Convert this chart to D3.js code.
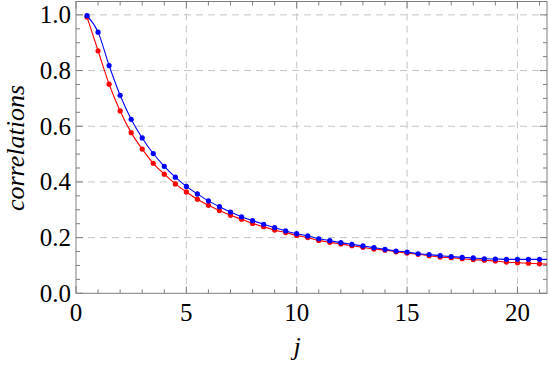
<!DOCTYPE html>
<html>
<head>
<meta charset="utf-8">
<script src="https://cdn.jsdelivr.net/npm/d3@7"></script>
<style>
  body { margin: 0; background: #fff; }
</style>
</head>
<body>
<div id="chart"></div>
<script>
var width = 549;
var height = 366;

// j values 0.5, 1, ..., 21
var jValues = [0.5, 1, 1.5, 2, 2.5, 3, 3.5, 4, 4.5, 5, 5.5, 6, 6.5, 7, 7.5, 8, 8.5, 9, 9.5, 10,
  10.5, 11, 11.5, 12, 12.5, 13, 13.5, 14, 14.5, 15, 15.5, 16, 16.5, 17, 17.5, 18, 18.5, 19, 19.5, 20, 20.5, 21];
var blueValues = [0.997, 0.938, 0.818, 0.711, 0.625, 0.558, 0.502, 0.456, 0.417, 0.384, 0.357, 0.332, 0.311, 0.292, 0.275, 0.261,
  0.248, 0.236, 0.224, 0.214, 0.206, 0.196, 0.189, 0.182, 0.176, 0.170, 0.164, 0.158, 0.152, 0.148, 0.142, 0.139,
  0.135, 0.132, 0.129, 0.127, 0.124, 0.123, 0.122, 0.122, 0.122, 0.122];
var redValues = [0.992, 0.871, 0.751, 0.655, 0.577, 0.518, 0.467, 0.428, 0.393, 0.364, 0.338, 0.316, 0.297, 0.280, 0.266, 0.251,
  0.239, 0.227, 0.218, 0.208, 0.200, 0.190, 0.183, 0.177, 0.171, 0.165, 0.159, 0.155, 0.149, 0.144, 0.140, 0.135,
  0.130, 0.128, 0.124, 0.121, 0.119, 0.116, 0.112, 0.110, 0.108, 0.106];
var xTicks = [0, 5, 10, 15, 20];
var yTicks = [0.0, 0.2, 0.4, 0.6, 0.8, 1.0];

var plotLeft = 76, plotRight = 547, plotTop = 1.5, plotBottom = 293.3;
var frameColor = "#7f7f7f";
var serif = "'Liberation Serif', 'Times New Roman', Times, serif";

const svg = d3.select("#chart")
  .append("svg")
  .attr("width", width)
  .attr("height", height)
  .attr("viewBox", [0, 0, width, height])
  .attr("font-family", serif);

const x = d3.scaleLinear().domain([0, 21.34]).range([plotLeft, plotRight]);
const y = d3.scaleLinear().domain([0, 1.048]).range([plotBottom, plotTop]);

// gridlines
svg.append("g")
  .selectAll("line")
  .data(xTicks.filter(d => d > 0))
  .join("line")
  .attr("x1", d => x(d)).attr("x2", d => x(d))
  .attr("y1", plotTop).attr("y2", plotBottom)
  .attr("stroke", "#c4c4c4")
  .attr("stroke-width", 1)
  .attr("stroke-dasharray", "7,5");
svg.append("g")
  .selectAll("line")
  .data(yTicks.filter(d => d > 0))
  .join("line")
  .attr("x1", plotLeft).attr("x2", plotRight)
  .attr("y1", d => y(d)).attr("y2", d => y(d))
  .attr("stroke", "#c4c4c4")
  .attr("stroke-width", 1)
  .attr("stroke-dasharray", "7,5");

// frame ticks (inward), minor and major
var minorX = d3.range(0, 22, 1);
var minorY = d3.range(0, 21).map(i => i * 0.05);
const tickG = svg.append("g").attr("stroke", frameColor).attr("stroke-width", 1);
minorX.forEach(function(d) {
  var len = (d % 5 === 0) ? 7 : 4;
  tickG.append("line").attr("x1", x(d)).attr("x2", x(d)).attr("y1", plotBottom).attr("y2", plotBottom - len);
  tickG.append("line").attr("x1", x(d)).attr("x2", x(d)).attr("y1", plotTop).attr("y2", plotTop + len);
});
minorY.forEach(function(d, i) {
  var len = (i % 4 === 0) ? 7 : 4;
  tickG.append("line").attr("x1", plotLeft).attr("x2", plotLeft + len).attr("y1", y(d)).attr("y2", y(d));
  tickG.append("line").attr("x1", plotRight).attr("x2", plotRight - len).attr("y1", y(d)).attr("y2", y(d));
});

// frame
svg.append("rect")
  .attr("x", plotLeft).attr("y", plotTop)
  .attr("width", plotRight - plotLeft).attr("height", plotBottom - plotTop)
  .attr("fill", "none")
  .attr("stroke", frameColor)
  .attr("stroke-width", 1);

// tick labels
svg.append("g")
  .selectAll("text")
  .data(xTicks)
  .join("text")
  .attr("x", d => x(d))
  .attr("y", 321)
  .attr("text-anchor", "middle")
  .attr("font-size", 25)
  .text(d => d);
svg.append("g")
  .selectAll("text")
  .data(yTicks)
  .join("text")
  .attr("x", 71)
  .attr("y", d => y(d) + 8.5)
  .attr("text-anchor", "end")
  .attr("font-size", 25)
  .text(d => d.toFixed(1));

// axis labels
svg.append("text")
  .attr("transform", "translate(24,148) rotate(-90)")
  .attr("text-anchor", "middle")
  .attr("font-size", 26)
  .attr("font-style", "italic")
  .text("correlations");
svg.append("text")
  .attr("x", 297)
  .attr("y", 355)
  .attr("text-anchor", "middle")
  .attr("font-size", 26)
  .attr("font-style", "italic")
  .text("j");

// series
svg.append("clipPath").attr("id", "plotclip")
  .append("rect")
  .attr("x", plotLeft).attr("y", plotTop)
  .attr("width", plotRight - plotLeft).attr("height", plotBottom - plotTop);

const line = d3.line()
  .x(d => x(d[0]))
  .y(d => y(d[1]))
  .curve(d3.curveMonotoneX);

function drawSeries(values, color) {
  var pts = jValues.map((j, i) => [j, values[i]]);
  // continue the curve to the right edge of the frame along the last slope
  var n = pts.length;
  var slope = (pts[n - 1][1] - pts[n - 2][1]) / (pts[n - 1][0] - pts[n - 2][0]);
  var xEnd = x.domain()[1];
  var ext = pts.concat([[xEnd, pts[n - 1][1] + slope * (xEnd - pts[n - 1][0])]]);
  svg.append("path")
    .attr("clip-path", "url(#plotclip)")
    .attr("d", line(ext))
    .attr("fill", "none")
    .attr("stroke", color)
    .attr("stroke-width", 1.1);
  svg.append("g")
    .selectAll("circle")
    .data(pts)
    .join("circle")
    .attr("cx", d => x(d[0]))
    .attr("cy", d => y(d[1]))
    .attr("r", 2.6)
    .attr("fill", color);
}

drawSeries(redValues, "#ff0000");
drawSeries(blueValues, "#0000ff");
</script>
</body>
</html>
